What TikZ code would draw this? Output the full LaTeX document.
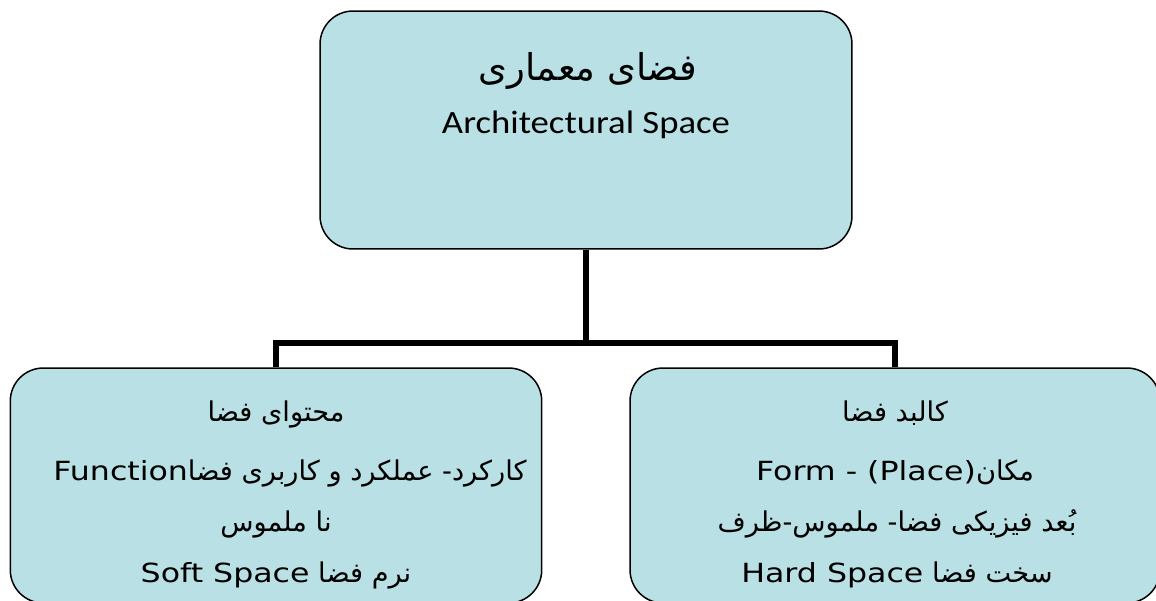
\documentclass[tikz,border=0pt]{standalone}
\usepackage{fontspec}
\usepackage{tikz}
\usetikzlibrary{positioning}
\TeXXeTstate=1
\newfontfamily\farsifont[Script=Arabic]{DejaVu Sans}
\newfontfamily\titlefont[FakeStretch=1.13]{Carlito}
\newfontfamily\latinfont[FakeStretch=1.2]{DejaVu Sans}
\tikzset{box/.style = {draw, fill = maqua, line width = 0.85pt, rounded corners = 0.66cm, inner sep = 0}}
\tikzset{conn/.style = {line width = 3.4pt, line join = miter}}
\tikzset{fa/.style = {inner sep = 0, anchor = base, font = \farsifont\fontsize{15.5}{19}\selectfont}}
\tikzset{bigfa/.style = {fa, font = \farsifont\fontsize{21}{25}\selectfont}}
\tikzset{en/.style = {inner sep = 0, anchor = base, font = \titlefont\fontsize{18.5}{22}\selectfont}}
\newcommand{\lat}[1]{\beginL{\latinfont\fontsize{15}{18}\selectfont #1}\endL}
\definecolor{maqua}{RGB}{185, 224, 228}

\begin{document}
\begin{tikzpicture}[x=0.02cm, y=-0.02cm]
    \useasboundingbox (0, 0) rectangle (1156, 600);
    \clip (0, 0) rectangle (1156, 600);

    \node [box, minimum width = 10.64cm, minimum height = 4.76cm] (space) at (586, 130) {};
    \node [box, minimum width = 10.63cm, minimum height = 4.7cm] (content) at (276, 485.5) {};
    \node [box, minimum width = 10.6cm, minimum height = 4.7cm] (form) at (895, 485.5) {};

    \coordinate (fork) at (586, 343);
    \draw [conn] (space.south) -- (fork) -| (content.north);
    \draw [conn] (fork) -| (form.north);

    \node [bigfa] (space-fa) at (588, 80) {\beginR فضای معماری\endR};
    \node [en] (space-en) at (586, 133) {Architectural Space};

    % content of space
    \node [fa] (content-1) at (276, 421) {\beginR محتوای فضا\endR};
    \node [fa] (content-2) at (290, 480) {\beginR کارکرد- عملکرد و کاربری فضا\lat{Function}\endR};
    \node [fa] (content-3) at (276, 531) {\beginR نا ملموس\endR};
    \node [fa] (content-4) at (276, 582) {\beginR نرم فضا \lat{Soft Space}\endR};

    % form of space
    \node [fa] (form-1) at (895, 421) {\beginR کالبد فضا\endR};
    \node [fa] (form-2) at (895, 480) {\beginR مکان\lat{(Place)}\lat{ - }\lat{Form}\endR};
    \node [fa] (form-3) at (897, 531) {\beginR بُعد فیزیکی فضا- ملموس-ظرف\endR};
    \node [fa] (form-4) at (897, 582) {\beginR سخت فضا \lat{Hard Space}\endR};
\end{tikzpicture}
\end{document}
